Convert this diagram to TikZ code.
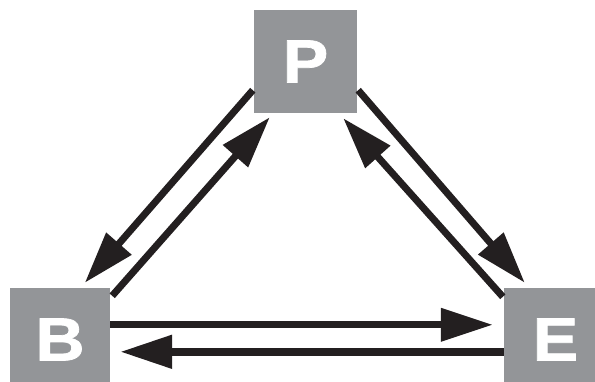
\documentclass[tikz,border=0pt]{standalone}
\usepackage{fontspec}
\newfontfamily\lblfont[FakeBold=1.2,FakeStretch=1.12]{Liberation Sans}
\usetikzlibrary{arrows.meta,calc}
\definecolor{boxgrey}{RGB}{147,149,152}
\definecolor{ink}{RGB}{35,31,32}
\tikzset{
  block/.style={fill=boxgrey,draw=none,minimum width=103pt,minimum height=103pt,
    inner sep=0pt,font=\lblfont\bfseries\fontsize{61}{61}\selectfont,text=white},
  link/.style={draw=ink,line width=7pt,
    -{Triangle[length=52pt,width=32pt]}}
}
\begin{document}
\begin{tikzpicture}[x=1pt,y=-1pt]
  \useasboundingbox (0,0) rectangle (595,382);
  \clip (0,0) rectangle (595,382);
  % the three blocks
  \node[block,minimum width=100pt] (B) at (60,339.5) {B};
  \node[block] (P) at (305.5,61.5) {P};
  \node[block] (E) at (555.5,339.5) {E};
  % end points of the paired links
  \coordinate (pb0) at ($(P.south west)+(-1,-23)$);
  \coordinate (pb1) at ($(B.north west)+(75,-5)$);
  \coordinate (bp0) at ($(B.north east)+(2,8)$);
  \coordinate (bp1) at ($(P.south west)+(16,4)$);
  \coordinate (pe0) at ($(P.south east)+(1,-23)$);
  \coordinate (pe1) at ($(E.north west)+(21,-5)$);
  \coordinate (ep0) at ($(E.north west)+(-1,9)$);
  \coordinate (ep1) at ($(P.south east)+(-14,5)$);
  \coordinate (be0) at ($(B.north east)+(0,37)$);
  \coordinate (be1) at ($(E.north west)+(-11,37)$);
  \coordinate (eb0) at ($(E.north west)+(0,64)$);
  \coordinate (eb1) at ($(B.north east)+(10,64)$);
  % links
  \draw[link] (pb0) -- (pb1);
  \draw[link] (bp0) -- (bp1);
  \draw[link] (pe0) -- (pe1);
  \draw[link] (ep0) -- (ep1);
  \draw[link] (be0) -- (be1);
  \draw[link,line width=8pt] (eb0) -- (eb1);
\end{tikzpicture}
\end{document}
